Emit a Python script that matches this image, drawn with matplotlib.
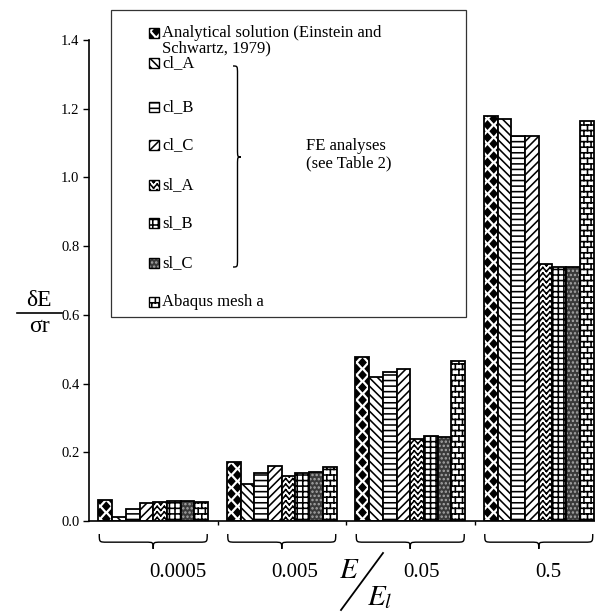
import warnings
import numpy as np
import matplotlib
matplotlib.use("Agg")
import matplotlib.pyplot as plt
import matplotlib.hatch as mhatch
from matplotlib.path import Path
from matplotlib.patches import Rectangle, PathPatch
from matplotlib.ticker import FormatStrFormatter
from matplotlib.transforms import blended_transform_factory

warnings.filterwarnings("ignore")

plt.rcParams["font.family"] = ["Liberation Serif", "DejaVu Serif"]
plt.rcParams["mathtext.fontset"] = "stix"
plt.rcParams["hatch.linewidth"] = 1.15

# ── data ─────────────────────────────────────────────────────────
ratios = ["0.0005", "0.005", "0.05", "0.5"]
series = ["Analytical solution", "cl_A", "cl_B", "cl_C", "sl_A", "sl_B", "sl_C", "Abaqus mesh a"]
analytical = [0.061, 0.173, 0.476, 1.180]
cl_a = [0.011, 0.107, 0.418, 1.170]
cl_b = [0.034, 0.139, 0.435, 1.120]
cl_c = [0.052, 0.160, 0.441, 1.120]
sl_a = [0.055, 0.131, 0.240, 0.747]
sl_b = [0.058, 0.139, 0.247, 0.740]
sl_c = [0.059, 0.143, 0.245, 0.740]
abaqus = [0.056, 0.156, 0.465, 1.164]
values = [analytical, cl_a, cl_b, cl_c, sl_a, sl_b, sl_c, abaqus]

# d = diamonds, z = zigzag, b = bricks (custom patterns below)
hatches = ["d", "\\\\\\\\", "---", "////", "zzz", "+++", "....", "bbb"]


# ── extra hatch patterns ─────────────────────────────────────────
class DiamondHatch(mhatch.HatchPatternBase):
    def __init__(self, hatch, density):
        self.cols = int(round(hatch.count("d") * density * 1.3))
        self.rows = 2 * self.cols
        n = sum(self.cols + 1 if r % 2 == 0 else self.cols for r in range(self.rows + 1))
        self.num_vertices = 5 * n if self.cols else 0

    def set_vertices_and_codes(self, vertices, codes):
        hw = 0.27 / self.cols
        hh = 0.30 / self.cols
        shape = np.array([[0, hh], [-hw, 0], [0, -hh], [hw, 0], [0, hh]])
        sc = [Path.MOVETO, Path.LINETO, Path.LINETO, Path.LINETO, Path.CLOSEPOLY]
        k = 0
        for r in range(self.rows + 1):
            y = r / self.rows
            if r % 2 == 0:
                xs = np.linspace(0, 1, self.cols + 1)
            else:
                xs = (np.arange(self.cols) + 0.5) / self.cols
            for xx in xs:
                vertices[k:k + 5] = shape + [xx, y]
                codes[k:k + 5] = sc
                k += 5


class ZigzagHatch(mhatch.HatchPatternBase):
    def __init__(self, hatch, density):
        self.rows = int(hatch.count("z") * density)
        self.periods = int(round(self.rows * 0.78))
        self.num_vertices = self.rows * self.periods * 4

    def set_vertices_and_codes(self, vertices, codes):
        amp = 0.7 / self.rows
        k = 0
        for r in range(self.rows):
            y = (r + 0.5) / self.rows
            for p in range(self.periods):
                x0 = p / self.periods
                xm = x0 + 0.5 / self.periods
                x1 = x0 + 1.0 / self.periods
                vertices[k:k + 4] = [[x0, y + amp / 2], [xm, y - amp / 2],
                                     [xm, y - amp / 2], [x1, y + amp / 2]]
                codes[k:k + 4] = [Path.MOVETO, Path.LINETO, Path.MOVETO, Path.LINETO]
                k += 4


class BrickHatch(mhatch.HatchPatternBase):
    def __init__(self, hatch, density):
        rows = int(hatch.count("b") * density)
        self.rows = rows + rows % 2
        self.bricks = int(round(self.rows * 0.78))
        self.num_vertices = self.rows * 2 + (self.rows + 1) * self.bricks * 2 if self.rows else 0

    def set_vertices_and_codes(self, vertices, codes):
        k = 0
        step = 1.0 / self.rows
        for r in range(self.rows):
            y = (r + 0.5) * step
            vertices[k:k + 2] = [[0, y], [1, y]]
            codes[k:k + 2] = [Path.MOVETO, Path.LINETO]
            k += 2
        for r in range(-1, self.rows):
            y0 = (r + 0.5) * step
            shift = 0.5 * (r % 2)
            for b in range(self.bricks):
                xx = (b + 0.25 + shift) / self.bricks
                vertices[k:k + 2] = [[xx, y0], [xx, y0 + step]]
                codes[k:k + 2] = [Path.MOVETO, Path.LINETO]
                k += 2


mhatch._hatch_types.extend([DiamondHatch, ZigzagHatch, BrickHatch])

C4 = Path.CURVE4


def brace_path(pts):
    # start point, corner curve, line, tip curve in/out, line, corner curve
    codes = [Path.MOVETO, C4, C4, C4, Path.LINETO, C4, C4, C4, C4, C4, C4, Path.LINETO, C4, C4, C4]
    return Path(pts, codes)


# ── figure ───────────────────────────────────────────────────────
fig = plt.figure(figsize=(5.95, 6.14), dpi=100)
ax = fig.add_axes([89 / 595, 93 / 614, 514 / 595, 481 / 614])
ax.patch.set_alpha(0)

n = len(series)
w = 0.856 / n
x = np.arange(len(ratios))
for j, (vals, h) in enumerate(zip(values, hatches)):
    pos = x + (j - (n - 1) / 2) * w
    if series[j] == "sl_C":
        ax.bar(pos, vals, w, color="#3a3a3a", edgecolor="#a8a8a8", hatch=h, linewidth=0)
        ax.bar(pos, vals, w, fill=False, edgecolor="black", linewidth=1.3)
    else:
        ax.bar(pos, vals, w, color="white", edgecolor="black", hatch=h, linewidth=1.3)

ax.set_xlim(-0.5, 3.5)
ax.set_ylim(0, 1.4)
ax.spines[["top", "right"]].set_visible(False)
ax.spines["left"].set_linewidth(1.2)
ax.spines["bottom"].set_linewidth(1.2)
ax.set_yticks(np.arange(0, 1.41, 0.2))
ax.yaxis.set_major_formatter(FormatStrFormatter("%.1f"))
ax.tick_params(axis="y", direction="out", length=4, width=1, labelsize=10.5, pad=3)
ax.set_xticks(x[:-1] + 0.5)
ax.tick_params(axis="x", direction="out", length=3, width=1, labelbottom=False)

# braces and group labels under the x axis
tr = blended_transform_factory(ax.transData, ax.transAxes)
label_dx = [0.19, 0.10, 0.09, 0.075]
yt, ym, yb, r = -0.027, -0.044, -0.058, 0.06
for i, lab in enumerate(ratios):
    x0, x1 = i - 0.42, i + 0.42
    pts = [(x0, yt), (x0, ym), (x0, ym), (x0 + r, ym), (i - r, ym),
           (i, ym), (i, ym), (i, yb), (i, ym), (i, ym), (i + r, ym),
           (x1 - r, ym), (x1, ym), (x1, ym), (x1, yt)]
    ax.add_patch(PathPatch(brace_path(pts), facecolor="none", edgecolor="black",
                           linewidth=1.0, transform=tr, clip_on=False))
    ax.text(i + label_dx[i], -0.1075, lab, transform=tr, ha="center", va="center",
            fontsize=15)

# ── overlay in pixel units: legend box, axis titles ──────────────
ov = fig.add_axes([0, 0, 1, 1])
ov.set_xlim(0, 595)
ov.set_ylim(614, 0)
ov.axis("off")

ov.add_patch(Rectangle((111, 10), 355, 307, facecolor="white", edgecolor="#333333", linewidth=0.9))
legend_y = [33, 63, 107, 145, 185, 223, 263, 302]
legend_text = ["Analytical solution (Einstein and", "cl_A", "cl_B", "cl_C",
               "sl_A", "sl_B", "sl_C", "Abaqus mesh a"]
for j, (yy, txt) in enumerate(zip(legend_y, legend_text)):
    if series[j] == "sl_C":
        ov.add_patch(Rectangle((149, yy - 5), 10, 10, facecolor="#3a3a3a",
                               edgecolor="#a8a8a8", hatch=hatches[j], linewidth=0))
        ov.add_patch(Rectangle((149, yy - 5), 10, 10, fill=False, edgecolor="black", linewidth=1.0))
    else:
        ov.add_patch(Rectangle((149, yy - 5), 10, 10, facecolor="white",
                               edgecolor="black", hatch=hatches[j], linewidth=1.0))
    ov.text(162, yy, txt, ha="left", va="center", fontsize=12)
ov.text(162, 48, "Schwartz, 1979)", ha="left", va="center", fontsize=12)

bx0, bx1, btip = 233, 237.5, 241
pts = [(bx0, 66), (bx1, 66), (bx1, 66), (bx1, 74), (bx1, 149),
       (bx1, 157), (bx1, 157), (btip, 157), (bx1, 157), (bx1, 157), (bx1, 165),
       (bx1, 259), (bx1, 267), (bx1, 267), (bx0, 267)]
ov.add_patch(PathPatch(brace_path(pts), facecolor="none", edgecolor="black", linewidth=1.0))
ov.text(306.5, 146, "FE analyses", ha="left", va="center", fontsize=12)
ov.text(306.5, 163, "(see Table 2)", ha="left", va="center", fontsize=12)

# y label as a fraction
ov.text(39, 301, "δE", ha="center", va="center", fontsize=17)
ov.plot([17, 62], [313, 313], color="black", linewidth=1.2)
ov.text(39, 327, "σr", ha="center", va="center", fontsize=17)

# x label E / E_l
ov.text(339, 578, "$E$", ha="left", va="baseline", fontsize=21)
ov.plot([383, 341], [553, 610], color="black", linewidth=1.3)
ov.text(367, 605, "$E_l$", ha="left", va="baseline", fontsize=21)

fig.savefig("out.png", dpi=100)
